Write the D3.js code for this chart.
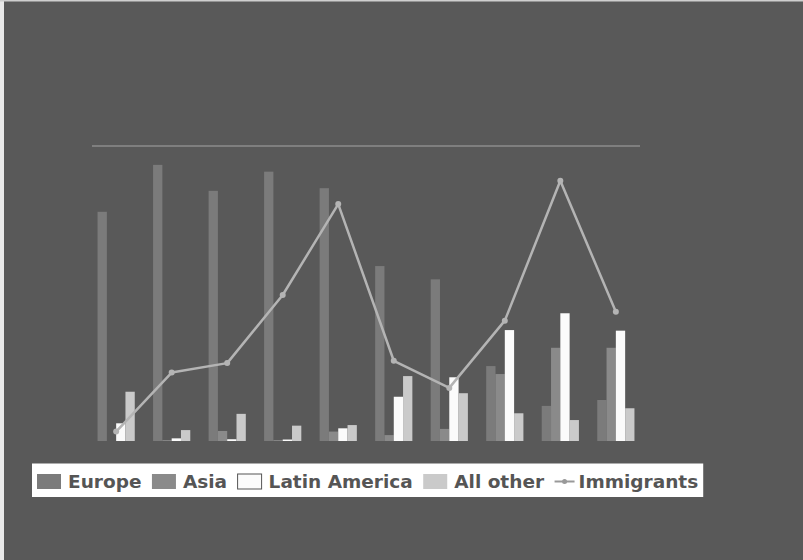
<!DOCTYPE html>
<html>
<head>
<meta charset="utf-8">
<script src="https://cdn.jsdelivr.net/npm/d3@7"></script>
<style>
  html, body { margin: 0; padding: 0; background: #595959; }
  svg { display: block; }
</style>
</head>
<body>
<svg id="chart" width="803" height="560"></svg>
<script>
// ---- data ----
const categories = ["P1", "P2", "P3", "P4", "P5", "P6", "P7", "P8", "P9", "P10"];
const seriesNames = ["Europe", "Asia", "Latin America", "All other"];
const europe       = [77.7, 93.6, 84.8, 91.3, 85.7, 59.3, 54.8, 25.4, 11.9, 13.9];
const asia         = [0.0, 0.3, 3.4, 0.3, 3.2, 2.0, 4.1, 22.7, 31.6, 31.6];
const latinAmerica = [6.0, 0.9, 0.6, 0.5, 4.3, 15.0, 21.6, 37.6, 43.3, 37.4];
const allOther     = [16.7, 3.7, 9.2, 5.2, 5.4, 22.0, 16.2, 9.4, 7.1, 11.1];
const immigrants   = [3.2, 23.2, 26.4, 49.5, 80.3, 27.2, 18.0, 40.8, 88.2, 43.8];
const yTicks = [100];

const seriesValues = [europe, asia, latinAmerica, allOther];
const seriesColors = ["#7b7b7b", "#8a8a8a", "#fbfbfb", "#cacaca"];
const lineColor = "#b4b4b4";

const svg = d3.select("#chart");

// background + thin light edges
svg.append("rect").attr("width", 803).attr("height", 560).attr("fill", "#595959");
svg.append("rect").attr("x", 0).attr("y", 0).attr("width", 4).attr("height", 560).attr("fill", "#e9e9e9");
svg.append("rect").attr("x", 0).attr("y", 0).attr("width", 803).attr("height", 1.5).attr("fill", "#cfcfcf");

// scales
const x = d3.scaleBand().domain(categories).range([92, 640]).paddingInner(0.33).paddingOuter(0.1);
const xs = d3.scaleBand().domain(seriesNames).range([0, x.bandwidth()]);
const y = d3.scaleLinear().domain([0, 100]).range([441, 146]);
const y2 = d3.scaleLinear().domain([0, 100]).range([441, 146]);

// top grid line
svg.append("g").selectAll("line").data(yTicks).join("line")
  .attr("x1", x.range()[0]).attr("x2", x.range()[1])
  .attr("y1", d => y(d)).attr("y2", d => y(d))
  .attr("stroke", "#8c8c8c").attr("stroke-width", 1.5);

// bars
const groups = svg.append("g").selectAll("g").data(categories).join("g")
  .attr("transform", d => `translate(${x(d)},0)`);

groups.selectAll("rect")
  .data((c, i) => seriesNames.map((s, k) => ({ s, k, v: seriesValues[k][i] })))
  .join("rect")
  .attr("x", d => xs(d.s))
  .attr("width", xs.bandwidth())
  .attr("y", d => y(d.v))
  .attr("height", d => y(0) - y(d.v))
  .attr("fill", d => seriesColors[d.k]);

// line
const linePts = categories.map((c, i) => [x(c) + x.bandwidth() / 2, y2(immigrants[i])]);
svg.append("path")
  .attr("d", d3.line()(linePts))
  .attr("fill", "none").attr("stroke", lineColor).attr("stroke-width", 2.5)
  .attr("stroke-linejoin", "round");
svg.append("g").selectAll("circle").data(linePts).join("circle")
  .attr("cx", d => d[0]).attr("cy", d => d[1]).attr("r", 3)
  .attr("fill", lineColor);

// legend
const legendItems = seriesNames.map((s, k) => ({ name: s, color: seriesColors[k], type: "box" }))
  .concat([{ name: "Immigrants", color: lineColor, type: "line" }]);

const lg = svg.append("g");
const box = lg.append("rect").attr("fill", "#ffffff");
let cx = 37;
const midY = 481.5;
legendItems.forEach(it => {
  if (it.type === "box") {
    lg.append("rect").attr("x", cx).attr("y", midY - 7.5).attr("width", 24).attr("height", 15)
      .attr("fill", it.color).attr("stroke", "#555").attr("stroke-width", it.color === "#fbfbfb" ? 1 : 0);
    cx += 24 + 7;
  } else {
    lg.append("line").attr("x1", cx).attr("x2", cx + 20).attr("y1", midY).attr("y2", midY)
      .attr("stroke", "#999").attr("stroke-width", 2);
    lg.append("circle").attr("cx", cx + 10).attr("cy", midY).attr("r", 2.5).attr("fill", "#999");
    cx += 20 + 4;
  }
  const t = lg.append("text").attr("x", cx).attr("y", midY + 6.7)
    .attr("font-family", "DejaVu Sans, sans-serif").attr("font-weight", "bold")
    .attr("font-size", 18.5).attr("fill", "#555555").text(it.name);
  cx += t.node().getComputedTextLength() + 10.5;
});
box.attr("x", 32).attr("y", 463.5).attr("width", cx - 10.5 + 5 - 32).attr("height", 33.5);
</script>
</body>
</html>
